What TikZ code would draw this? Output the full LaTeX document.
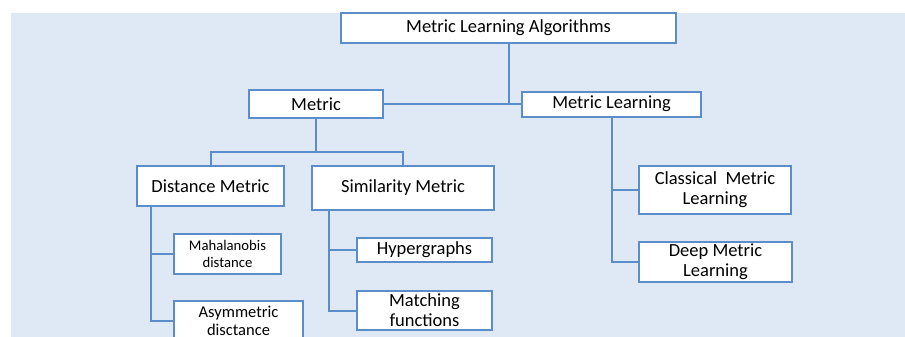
\documentclass[tikz,border=0pt]{standalone}
\usepackage{fontspec}
\setmainfont{Carlito}
\usepackage{tikz}
\definecolor{panelbg}{HTML}{DEE9F5}
\definecolor{edgeblue}{HTML}{5B8DC8}

\begin{document}
\begin{tikzpicture}[x=0.5pt,y=-0.5pt,
    box/.style={draw=edgeblue,line width=1pt,fill=white,inner sep=0pt,align=center,
      font=\fontsize{9.25}{10}\selectfont},
    link/.style={draw=edgeblue,line width=1pt}]
    \path[use as bounding box,clip] (0,0) rectangle (905,337);
    \fill[panelbg] (11,13) rectangle (905,337);
    % boxes
    \node[box,minimum width=167.5pt,minimum height=15pt] (root) at (508.5,28) {Metric Learning Algorithms};
    \node[box,minimum width=67pt,minimum height=14pt] (metric) at (316,104) {Metric};
    \node[box,minimum width=89.5pt,minimum height=12.5pt] (mlearn) at (611.5,104) {Metric Learning};
    \node[box,minimum width=73.5pt,minimum height=20pt] (dist) at (210.5,186) {Distance Metric};
    \node[box,minimum width=91pt,minimum height=22pt] (sim) at (403,188) {Similarity Metric};
    \node[box,minimum width=53.5pt,minimum height=20pt,font=\fontsize{7.35}{8.6}\selectfont] (maha) at (227.5,254) {Mahalanobis\\distance};
    \node[box,minimum width=64.5pt,minimum height=20pt,font=\fontsize{8.25}{8.7}\selectfont] (asym) at (238.5,321) {Asymmetric\\disctance};
    \node[box,minimum width=67.5pt,minimum height=12pt] (hyper) at (424.5,250) {Hypergraphs};
    \node[box,minimum width=67.5pt,minimum height=19.5pt] (match) at (424.5,310.5) {Matching\\functions};
    \node[box,minimum width=76pt,minimum height=24pt] (classic) at (715,190) {Classical~ Metric\\Learning};
    \node[box,minimum width=76.5pt,minimum height=20pt] (deep) at (715.5,262) {Deep Metric\\Learning};
    % connectors
    \coordinate (mbar) at (316,152);
    \path (dist.south west) ++(15,0) coordinate (dstem);
    \path (sim.south west) ++(18,0) coordinate (sstem);
    \draw[link] (metric.east) -- (mlearn.west);
    \draw[link] (root.south) -- (root.south |- metric.east);
    \draw[link] (metric.south) -- (mbar);
    \draw[link] (dist.north) |- (mbar) -| (sim.north);
    \draw[link] (dstem) |- (maha.west);
    \draw[link] (dstem) |- (asym.west);
    \draw[link] (sstem) |- (hyper.west);
    \draw[link] (sstem) |- (match.west);
    \draw[link] (mlearn.south) |- (classic.west);
    \draw[link] (mlearn.south) |- (deep.west);
\end{tikzpicture}
\end{document}
